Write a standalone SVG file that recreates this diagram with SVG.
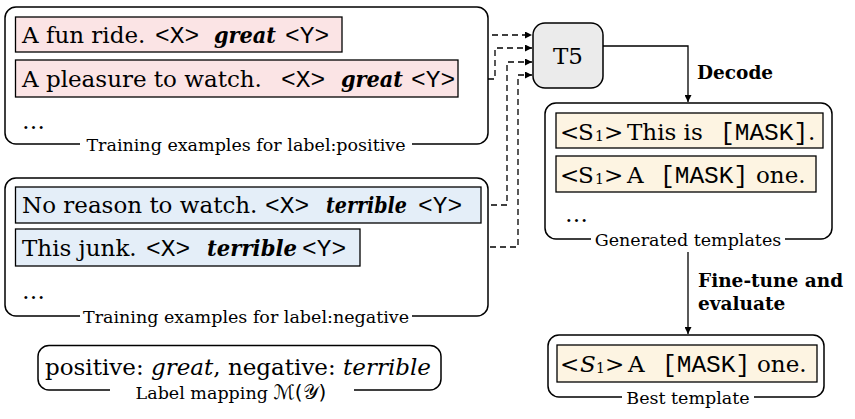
<svg xmlns="http://www.w3.org/2000/svg" width="855" height="419" viewBox="0 0 855 419">
<defs>
<marker id="ah" viewBox="0 0 10 10" refX="10" refY="5" markerWidth="9" markerHeight="7" markerUnits="userSpaceOnUse" orient="auto">
<path d="M0,0 L10,5 L0,10 z" fill="#000"/>
</marker>
<style>
.outer{fill:#fff;stroke:#000;stroke-width:1.5}
.pink{fill:#fbe4e5;stroke:#000;stroke-width:1.3}
.blue{fill:#e4eef8;stroke:#000;stroke-width:1.3}
.yellow{fill:#fdf4e2;stroke:#000;stroke-width:1.3}
.t{font-family:"DejaVu Serif",serif;font-size:23px;fill:#000}
.m{font-family:"Liberation Mono",monospace;font-size:24.5px}
.bi{font-weight:bold;font-style:italic;font-size:22px}
.it{font-style:italic}
.sub{font-size:14px}
.lbl{font-family:"DejaVu Serif",serif;font-size:17.5px;text-anchor:middle;fill:#000}
.bg{fill:#fff;stroke:none}
.b{font-family:"DejaVu Serif",serif;font-size:18.5px;font-weight:bold}
.dash{fill:none;stroke:#000;stroke-width:1.3;stroke-dasharray:6 4}
.solid{fill:none;stroke:#000;stroke-width:1.3}
</style>
</defs>

<g id="connectors">
<path class="dash" d="M342,35 H532" marker-end="url(#ah)"/>
<path class="dash" d="M458,79 H495 V48 H532" marker-end="url(#ah)"/>
<path class="dash" d="M481,205 H507 V62 H532" marker-end="url(#ah)"/>
<path class="dash" d="M360,247 H518 V75 H532" marker-end="url(#ah)"/>
<path class="solid" d="M603,46 H688 V102" marker-end="url(#ah)"/>
<path class="solid" d="M688,252 V334" marker-end="url(#ah)"/>
</g>

<g id="positive">
<rect class="outer" x="5" y="7" width="483" height="137" rx="11"/>
<rect class="bg" x="80" y="136" width="332" height="18"/>
<text class="lbl" x="246" y="151">Training examples for label:positive</text>
<rect class="pink" x="15.5" y="17" width="326.5" height="35"/>
<text class="t" y="43"><tspan x="22">A fun ride.</tspan><tspan class="m" x="155">&lt;X&gt;</tspan><tspan class="bi" x="214" textLength="62" lengthAdjust="spacingAndGlyphs">great</tspan><tspan class="m" x="285">&lt;Y&gt;</tspan></text>
<rect class="pink" x="15.5" y="60" width="442.5" height="37"/>
<text class="t" y="87"><tspan x="22">A pleasure to watch.</tspan><tspan class="m" x="281">&lt;X&gt;</tspan><tspan class="bi" x="341" textLength="62" lengthAdjust="spacingAndGlyphs">great</tspan><tspan class="m" x="411">&lt;Y&gt;</tspan></text>
<text class="t" x="22" y="129">…</text>
</g>

<g id="negative">
<rect class="outer" x="5" y="178" width="483" height="138" rx="11"/>
<rect class="bg" x="80" y="308" width="332" height="18"/>
<text class="lbl" x="246" y="323">Training examples for label:negative</text>
<rect class="blue" x="15.5" y="187" width="465.5" height="36"/>
<text class="t" y="213"><tspan x="22">No reason to watch.</tspan><tspan class="m" x="265">&lt;X&gt;</tspan><tspan class="bi" x="326" textLength="81" lengthAdjust="spacingAndGlyphs">terrible</tspan><tspan class="m" x="418">&lt;Y&gt;</tspan></text>
<rect class="blue" x="15.5" y="229" width="344.5" height="37"/>
<text class="t" y="256"><tspan x="22">This junk.</tspan><tspan class="m" x="146">&lt;X&gt;</tspan><tspan class="bi" x="207" textLength="90" lengthAdjust="spacingAndGlyphs">terrible</tspan><tspan class="m" x="302">&lt;Y&gt;</tspan></text>
<text class="t" x="22" y="299">…</text>
</g>

<g id="label-mapping">
<rect class="outer" x="38" y="345.5" width="403" height="44.5" rx="11"/>
<rect class="bg" x="110" y="383" width="244" height="22"/>
<text class="t" x="45" y="375" font-size="23.4"><tspan>positive: </tspan><tspan class="it">great</tspan><tspan>, negative: </tspan><tspan class="it">terrible</tspan></text>
<text class="lbl" x="231" y="399">Label mapping <tspan font-family="'DejaVu Sans','Noto Sans',serif" font-size="20">ℳ(𝒴)</tspan></text>
</g>

<g id="t5">
<rect x="533" y="23" width="70" height="65" rx="12" fill="#ebebeb" stroke="#000" stroke-width="1.5"/>
<text class="t" x="568" y="64" text-anchor="middle" font-size="24">T5</text>
</g>

<g id="decode-label">
<text class="b" x="697" y="79">Decode</text>
</g>

<g id="generated">
<rect class="outer" x="545" y="103" width="287" height="136" rx="11"/>
<rect class="bg" x="591" y="231" width="194" height="18"/>
<text class="lbl" x="688" y="246">Generated templates</text>
<rect class="yellow" x="556" y="113" width="267" height="35"/>
<text class="t" y="140"><tspan x="560">&lt;</tspan><tspan x="578">S</tspan><tspan class="sub" x="595" dy="1">1</tspan><tspan x="604" dy="-1">&gt;</tspan><tspan x="627">This is</tspan><tspan class="m" x="720">[MASK]</tspan><tspan x="808">.</tspan></text>
<rect class="yellow" x="556" y="156" width="260" height="36"/>
<text class="t" y="183"><tspan x="560">&lt;</tspan><tspan x="578">S</tspan><tspan class="sub" x="595" dy="1">1</tspan><tspan x="604" dy="-1">&gt;</tspan><tspan x="627">A</tspan><tspan class="m" x="660">[MASK]</tspan><tspan x="756">one.</tspan></text>
<text class="t" x="565" y="222">…</text>
</g>

<g id="finetune-label">
<text class="b" x="698" y="287">Fine-tune and</text>
<text class="b" x="698" y="310">evaluate</text>
</g>

<g id="best">
<rect class="outer" x="548" y="335" width="276" height="62" rx="11"/>
<rect class="bg" x="622" y="389" width="132" height="18"/>
<text class="lbl" x="688" y="404">Best template</text>
<rect class="yellow" x="557" y="345" width="260" height="37"/>
<text class="t" y="372"><tspan x="560">&lt;</tspan><tspan class="it" x="580">S</tspan><tspan class="sub" x="596" dy="1">1</tspan><tspan x="605" dy="-1">&gt;</tspan><tspan x="628">A</tspan><tspan class="m" x="662">[MASK]</tspan><tspan x="757">one.</tspan></text>
</g>
</svg>
